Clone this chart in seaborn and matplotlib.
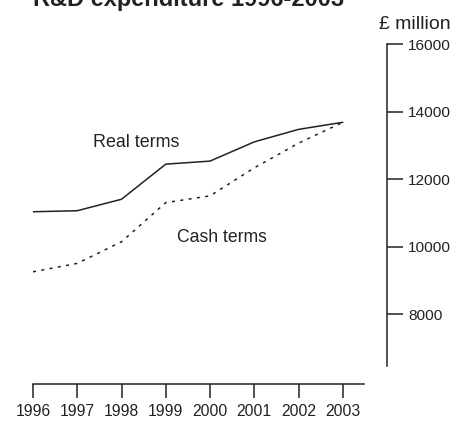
import matplotlib
matplotlib.use("Agg")
import matplotlib.pyplot as plt
import seaborn as sns
import pandas as pd

years = [1996, 1997, 1998, 1999, 2000, 2001, 2002, 2003]
real_terms = [11030, 11060, 11400, 12440, 12530, 13100, 13470, 13680]
cash_terms = [9250, 9500, 10140, 11300, 11500, 12330, 13060, 13680]
y_ticks = [8000, 10000, 12000, 14000, 16000]

sns.set_theme(style="white")
plt.rcParams["font.family"] = ["Liberation Sans", "DejaVu Sans"]

W, H = 454, 422
fig = plt.figure(figsize=(W / 100, H / 100), dpi=100)
ax = fig.add_axes([33 / W, (H - 384) / H, 354 / W, 340 / H])

df = pd.DataFrame({"year": years + years,
                   "value": real_terms + cash_terms,
                   "series": ["Real terms"] * 8 + ["Cash terms"] * 8})
sns.lineplot(data=df[df.series == "Real terms"], x="year", y="value", ax=ax,
             color="#222222", lw=1.1, legend=False)
sns.lineplot(data=df[df.series == "Cash terms"], x="year", y="value", ax=ax,
             color="#222222", lw=1.1, linestyle=(0, (2, 3.5)), legend=False)

ax.set_xlim(1996, 2004)
ax.set_ylim(5926, 16000)
ax.set_xlabel("")
ax.set_ylabel("")

for s in ["top", "left"]:
    ax.spines[s].set_visible(False)
ax.spines["bottom"].set_bounds(1996, 2003.48)
ax.spines["right"].set_bounds(6460, 16000)
for s in ["bottom", "right"]:
    ax.spines[s].set_color("#222222")
    ax.spines[s].set_linewidth(1.1)

ax.set_xticks(years)
ax.set_xticklabels([str(y) for y in years])
ax.yaxis.tick_right()
ax.set_yticks(y_ticks)
ax.set_yticklabels([str(v) for v in y_ticks])
ax.tick_params(axis="x", direction="out", length=10, width=1.1, color="#222222",
               pad=4.5, labelsize=11.3, labelcolor="#222222", bottom=True)
ax.tick_params(axis="y", direction="out", length=11.5, width=1.1, color="#222222",
               pad=3.6, labelsize=11.1, labelcolor="#222222", right=True, left=False)

ax.text(1998.33, 12950, "Real terms", fontsize=12.9, ha="center", va="baseline",
        color="#222222")
ax.text(2000.26, 10140, "Cash terms", fontsize=12.7, ha="center", va="baseline",
        color="#222222")

fig.text(33 / W, (H - 6) / H, "R&D expenditure 1996-2003", fontsize=17, fontweight="bold",
         ha="left", va="baseline", color="#222222")
fig.text(451 / W, (H - 29) / H, "£ million", fontsize=14, ha="right", va="baseline",
         color="#222222")

fig.savefig("out.png", dpi=100)
